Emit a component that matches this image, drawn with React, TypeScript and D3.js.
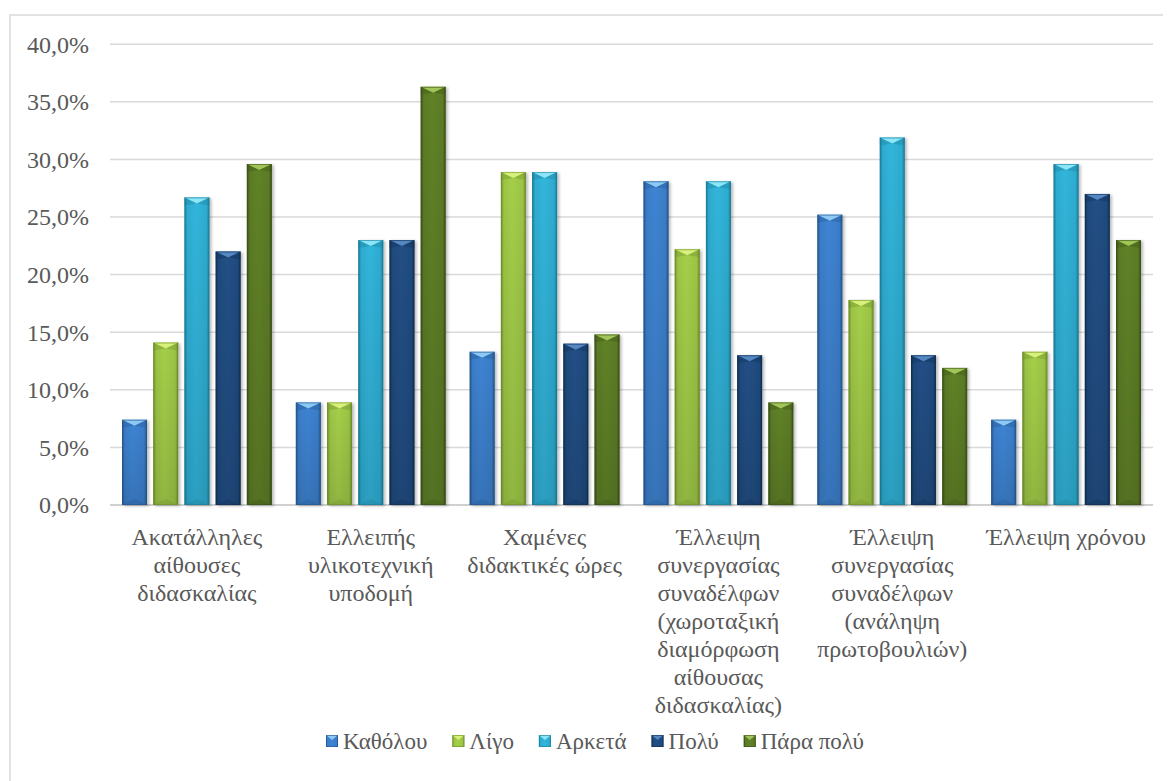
import React, { useMemo } from "react";
import * as d3 from "d3";

const W = 1171;
const H = 781;

const categories = [
  "Ακατάλληλες\nαίθουσες\nδιδασκαλίας",
  "Ελλειπής\nυλικοτεχνική\nυποδομή",
  "Χαμένες\nδιδακτικές ώρες",
  "Έλλειψη\nσυνεργασίας\nσυναδέλφων\n(χωροταξική\nδιαμόρφωση\nαίθουσας\nδιδασκαλίας)",
  "Έλλειψη\nσυνεργασίας\nσυναδέλφων\n(ανάληψη\nπρωτοβουλιών)",
  "Έλλειψη χρόνου",
];

const seriesNames = ["Καθόλου", "Λίγο", "Αρκετά", "Πολύ", "Πάρα πολύ"];

const katholou = [7.4, 8.9, 13.3, 28.1, 25.2, 7.4];
const ligo = [14.1, 8.9, 28.9, 22.2, 17.8, 13.3];
const arketa = [26.7, 23.0, 28.9, 28.1, 31.9, 29.6];
const poly = [22.0, 23.0, 14.0, 13.0, 13.0, 27.0];
const paraPoly = [29.6, 36.3, 14.8, 8.9, 11.9, 23.0];

const seriesValues = [katholou, ligo, arketa, poly, paraPoly];

const yTicks = [0, 5, 10, 15, 20, 25, 30, 35, 40];

// base, light (bevel top), dark (edges)
const palette = [
  { base: "#3b7dc8", light: "#8ccaf5", dark: "#24578f" },
  { base: "#9cc445", light: "#d8f07c", dark: "#6d8f2a" },
  { base: "#2eacd0", light: "#8be6f8", dark: "#1a7d99" },
  { base: "#1f4b7e", light: "#5588c2", dark: "#122f52" },
  { base: "#5b7b26", light: "#a2c559", dark: "#3b5216" },
];

const TEXT = "#595959";
const FONT = '"Times New Roman"';
const AXIS_SIZE = 24;
const LEGEND_SIZE = 23;

const LEFT = 110;
const RIGHT = 1153;
const TOP = 44.2;
const BOTTOM = 505;

function measure(text: string, size: number): number {
  const canvas = document.createElement("canvas");
  const ctx = canvas.getContext("2d");
  if (!ctx) return text.length * size * 0.5;
  ctx.font = `${size}px ${FONT}`;
  return ctx.measureText(text).width;
}

function Label(props: {
  x: number;
  y: number;
  size: number;
  anchor?: "start" | "middle" | "end";
  children: React.ReactNode;
}) {
  return (
    <text
      x={props.x}
      y={props.y}
      dy="0.35em"
      textAnchor={props.anchor ?? "start"}
      fontSize={props.size}
      fill={TEXT}
      style={{ fontFamily: FONT }}
    >
      {props.children}
    </text>
  );
}

export default function App() {
  const x = d3.scaleBand<number>().domain(d3.range(categories.length)).range([LEFT, RIGHT]);
  const xs = d3
    .scaleBand<number>()
    .domain(d3.range(seriesNames.length))
    .range([0, x.bandwidth()])
    .paddingInner(0.2)
    .paddingOuter(0.385);
  const y = d3.scaleLinear().domain([0, 40]).range([BOTTOM, TOP]);
  const bw = xs.bandwidth();
  const fmt = (d: number) => d3.format(".1f")(d).replace(".", ",") + "%";

  const legendItems = useMemo(() => {
    const marker = 12;
    const textGap = 5;
    const itemGap = 25;
    let cx = 326;
    return seriesNames.map((name, i) => {
      const w = measure(name, LEGEND_SIZE);
      const item = { name, i, x: cx, tx: cx + marker + textGap };
      cx += marker + textGap + w + itemGap;
      return item;
    });
  }, []);

  return (
    <svg width={W} height={H} style={{ display: "block", margin: "-8px 0 0 -8px" }}>
      <defs>
        {palette.map((c, i) => (
          <linearGradient key={`g${i}`} id={`bar-grad-${i}`} x1="0" x2="1" y1="0" y2="0">
            <stop offset="0%" stopColor={c.dark} />
            <stop offset="12%" stopColor={c.base} />
            <stop offset="45%" stopColor={d3.color(c.base)!.brighter(0.15).toString()} />
            <stop offset="88%" stopColor={c.base} />
            <stop offset="100%" stopColor={c.dark} />
          </linearGradient>
        ))}
        <linearGradient id="bar-vshade" x1="0" x2="0" y1="0" y2="1">
          <stop offset="0%" stopColor="#000" stopOpacity={0} />
          <stop offset="100%" stopColor="#000" stopOpacity={0.12} />
        </linearGradient>
        <filter id="bar-shadow" x="-30%" y="-10%" width="160%" height="120%">
          <feDropShadow dx={2} dy={1} stdDeviation={1.5} floodColor="#000" floodOpacity={0.28} />
        </filter>
      </defs>

      {/* chart frame */}
      <rect x={10} y={15} width={W + 20} height={H + 20} fill="#fff" stroke="#d9d9d9" strokeWidth={1.5} />

      {/* gridlines */}
      {yTicks.map((t) => (
        <line
          key={`grid${t}`}
          x1={LEFT}
          x2={RIGHT}
          y1={y(t)}
          y2={y(t)}
          stroke={t === 0 ? "#d0d0d0" : "#d9d9d9"}
          strokeWidth={t === 0 ? 2 : 1.5}
        />
      ))}

      {/* y tick labels */}
      {yTicks.map((t) => (
        <Label key={`tick${t}`} x={89} y={y(t)} size={AXIS_SIZE} anchor="end">
          {fmt(t)}
        </Label>
      ))}

      {/* bars */}
      {seriesValues.map((vals, si) => {
        const c = palette[si];
        return (
          <g key={`s${si}`}>
            {vals.map((v, ci) => {
              const bx = x(ci)! + xs(si)!;
              const by = y(v);
              const bh = BOTTOM - by;
              const bev = Math.min(6, bh / 2);
              return (
                <g key={`b${si}-${ci}`}>
                  <rect x={bx} y={by} width={bw} height={bh} fill={`url(#bar-grad-${si})`} filter="url(#bar-shadow)" />
                  <rect x={bx} y={by} width={bw} height={bh} fill="url(#bar-vshade)" />
                  <path d={`M${bx},${by} L${bx + bw},${by} L${bx + bw / 2},${by + bev} Z`} fill={c.light} />
                  <path
                    d={`M${bx},${by} L${bx + bw / 2},${by + bev} L${bx},${by + bev + 2} Z`}
                    fill={c.dark}
                    opacity={0.35}
                  />
                  <path
                    d={`M${bx + bw},${by} L${bx + bw / 2},${by + bev} L${bx + bw},${by + bev + 2} Z`}
                    fill={c.dark}
                    opacity={0.35}
                  />
                  <path
                    d={`M${bx},${BOTTOM} L${bx + bw},${BOTTOM} L${bx + bw / 2},${BOTTOM - bev} Z`}
                    fill={c.dark}
                    opacity={0.3}
                  />
                  <rect
                    x={bx + 0.5}
                    y={by + 0.5}
                    width={bw - 1}
                    height={Math.max(0, bh - 1)}
                    fill="none"
                    stroke={c.dark}
                    strokeOpacity={0.6}
                  />
                </g>
              );
            })}
          </g>
        );
      })}

      {/* category labels, one text per line */}
      {categories.map((cat, ci) => {
        const cx = x(ci)! + x.bandwidth() / 2;
        return (
          <g key={`cat${ci}`}>
            {cat.split("\n").map((line, li) => (
              <Label key={li} x={cx} y={536.5 + li * 28} size={AXIS_SIZE} anchor="middle">
                {line}
              </Label>
            ))}
          </g>
        );
      })}

      {/* legend */}
      {legendItems.map((it) => {
        const c = palette[it.i];
        return (
          <g key={`leg${it.i}`}>
            <rect x={it.x} y={735} width={12} height={12} fill={`url(#bar-grad-${it.i})`} />
            <path d={`M${it.x},735 L${it.x + 12},735 L${it.x + 6},740 Z`} fill={c.light} />
            <rect x={it.x + 0.5} y={735.5} width={11} height={11} fill="none" stroke={c.dark} strokeOpacity={0.6} />
            <Label x={it.tx} y={741} size={LEGEND_SIZE}>
              {it.name}
            </Label>
          </g>
        );
      })}
    </svg>
  );
}
